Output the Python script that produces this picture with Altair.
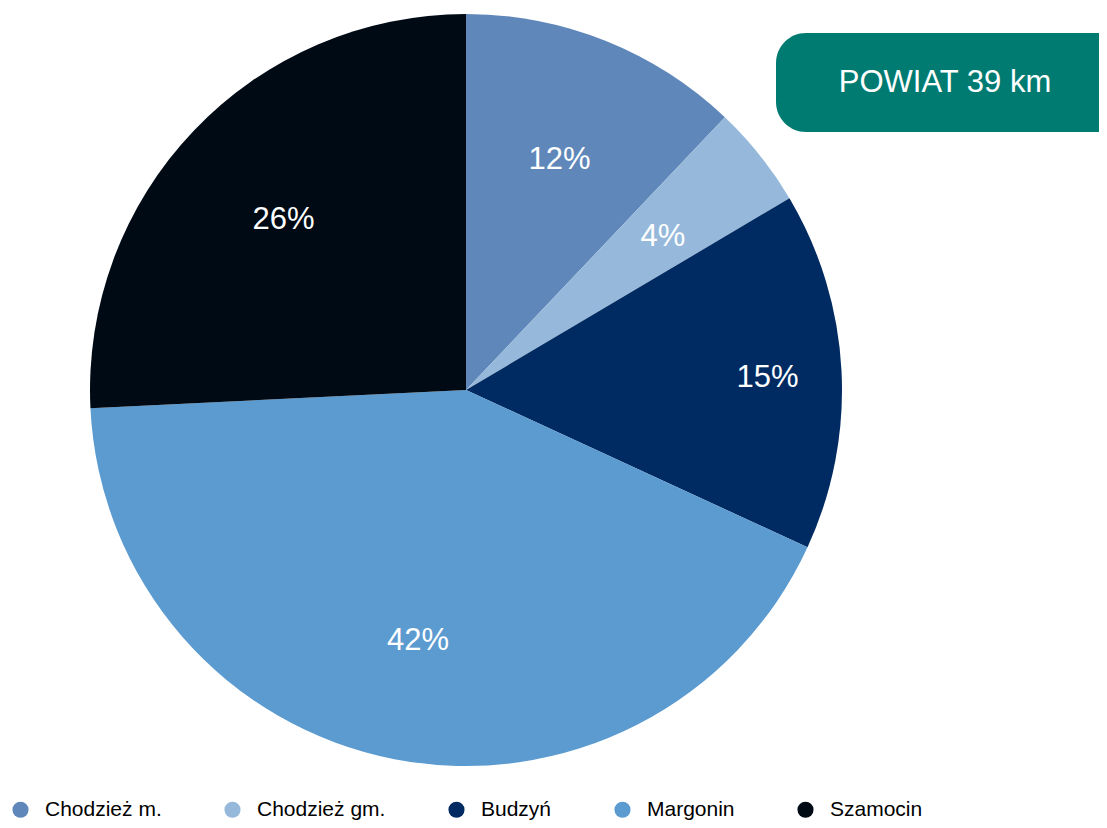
import altair as alt
import pandas as pd

names = ["Chodzież m.", "Chodzież gm.", "Budzyń", "Margonin", "Szamocin"]
shares = [12.1, 4.4, 15.4, 42.4, 25.8]
labels = ["12%", "4%", "15%", "42%", "26%"]
colors = ["#5F87B9", "#96B9DB", "#002B62", "#5B9BD0", "#000A14"]
badge = "POWIAT 39 km"

df = pd.DataFrame({"name": names, "share": shares, "label": labels, "ord": list(range(len(names)))})

CX, CY, R = 458, 382, 376
FONT = "Liberation Sans"

color = alt.Color("name:N", scale=alt.Scale(domain=names, range=colors),
                  legend=alt.Legend(title=None, orient="none", direction="horizontal",
                                    legendX=2, legendY=791, padding=0,
                                    symbolType="circle", symbolSize=260,
                                    symbolStrokeWidth=0, labelFont=FONT,
                                    labelFontSize=21, labelColor="#000000",
                                    labelOffset=14, columnPadding=60,
                                    labelLimit=300))

base = alt.Chart(df).encode(
    theta=alt.Theta("share:Q", stack=True),
    order=alt.Order("ord:Q"),
)

arcs = base.mark_arc(outerRadius=R, stroke=None, strokeWidth=0).encode(
    color=color, x=alt.value(CX), y=alt.value(CY))

txt = base.mark_text(radius=252, font=FONT, fontSize=31, color="white").encode(
    text=alt.condition(alt.datum.name == "Budzyń", alt.value(""), alt.Text("label:N")),
    x=alt.value(CX), y=alt.value(CY + 4))

txt2 = base.mark_text(radius=302, font=FONT, fontSize=31, color="white").encode(
    text=alt.condition(alt.datum.name == "Budzyń", alt.Text("label:N"), alt.value("")),
    x=alt.value(CX), y=alt.value(CY + 4))

badge_df = pd.DataFrame({"t": [badge]})
box = alt.Chart(badge_df).mark_rect(color="#007B72", cornerRadius=30).encode(
    x=alt.value(768), x2=alt.value(1140), y=alt.value(25), y2=alt.value(124))
btxt = alt.Chart(badge_df).mark_text(font=FONT, fontSize=31, color="white",
                                     align="center", baseline="middle").encode(
    text="t:N", x=alt.value(937), y=alt.value(75))

chart = alt.layer(arcs, txt, txt2, box, btxt).properties(
    width=1091, height=812,
    autosize=alt.AutoSizeParams(type="none"), padding=0,
).configure_view(stroke=None)

chart.save("out.html", embed_options={"renderer": "svg", "actions": False})
